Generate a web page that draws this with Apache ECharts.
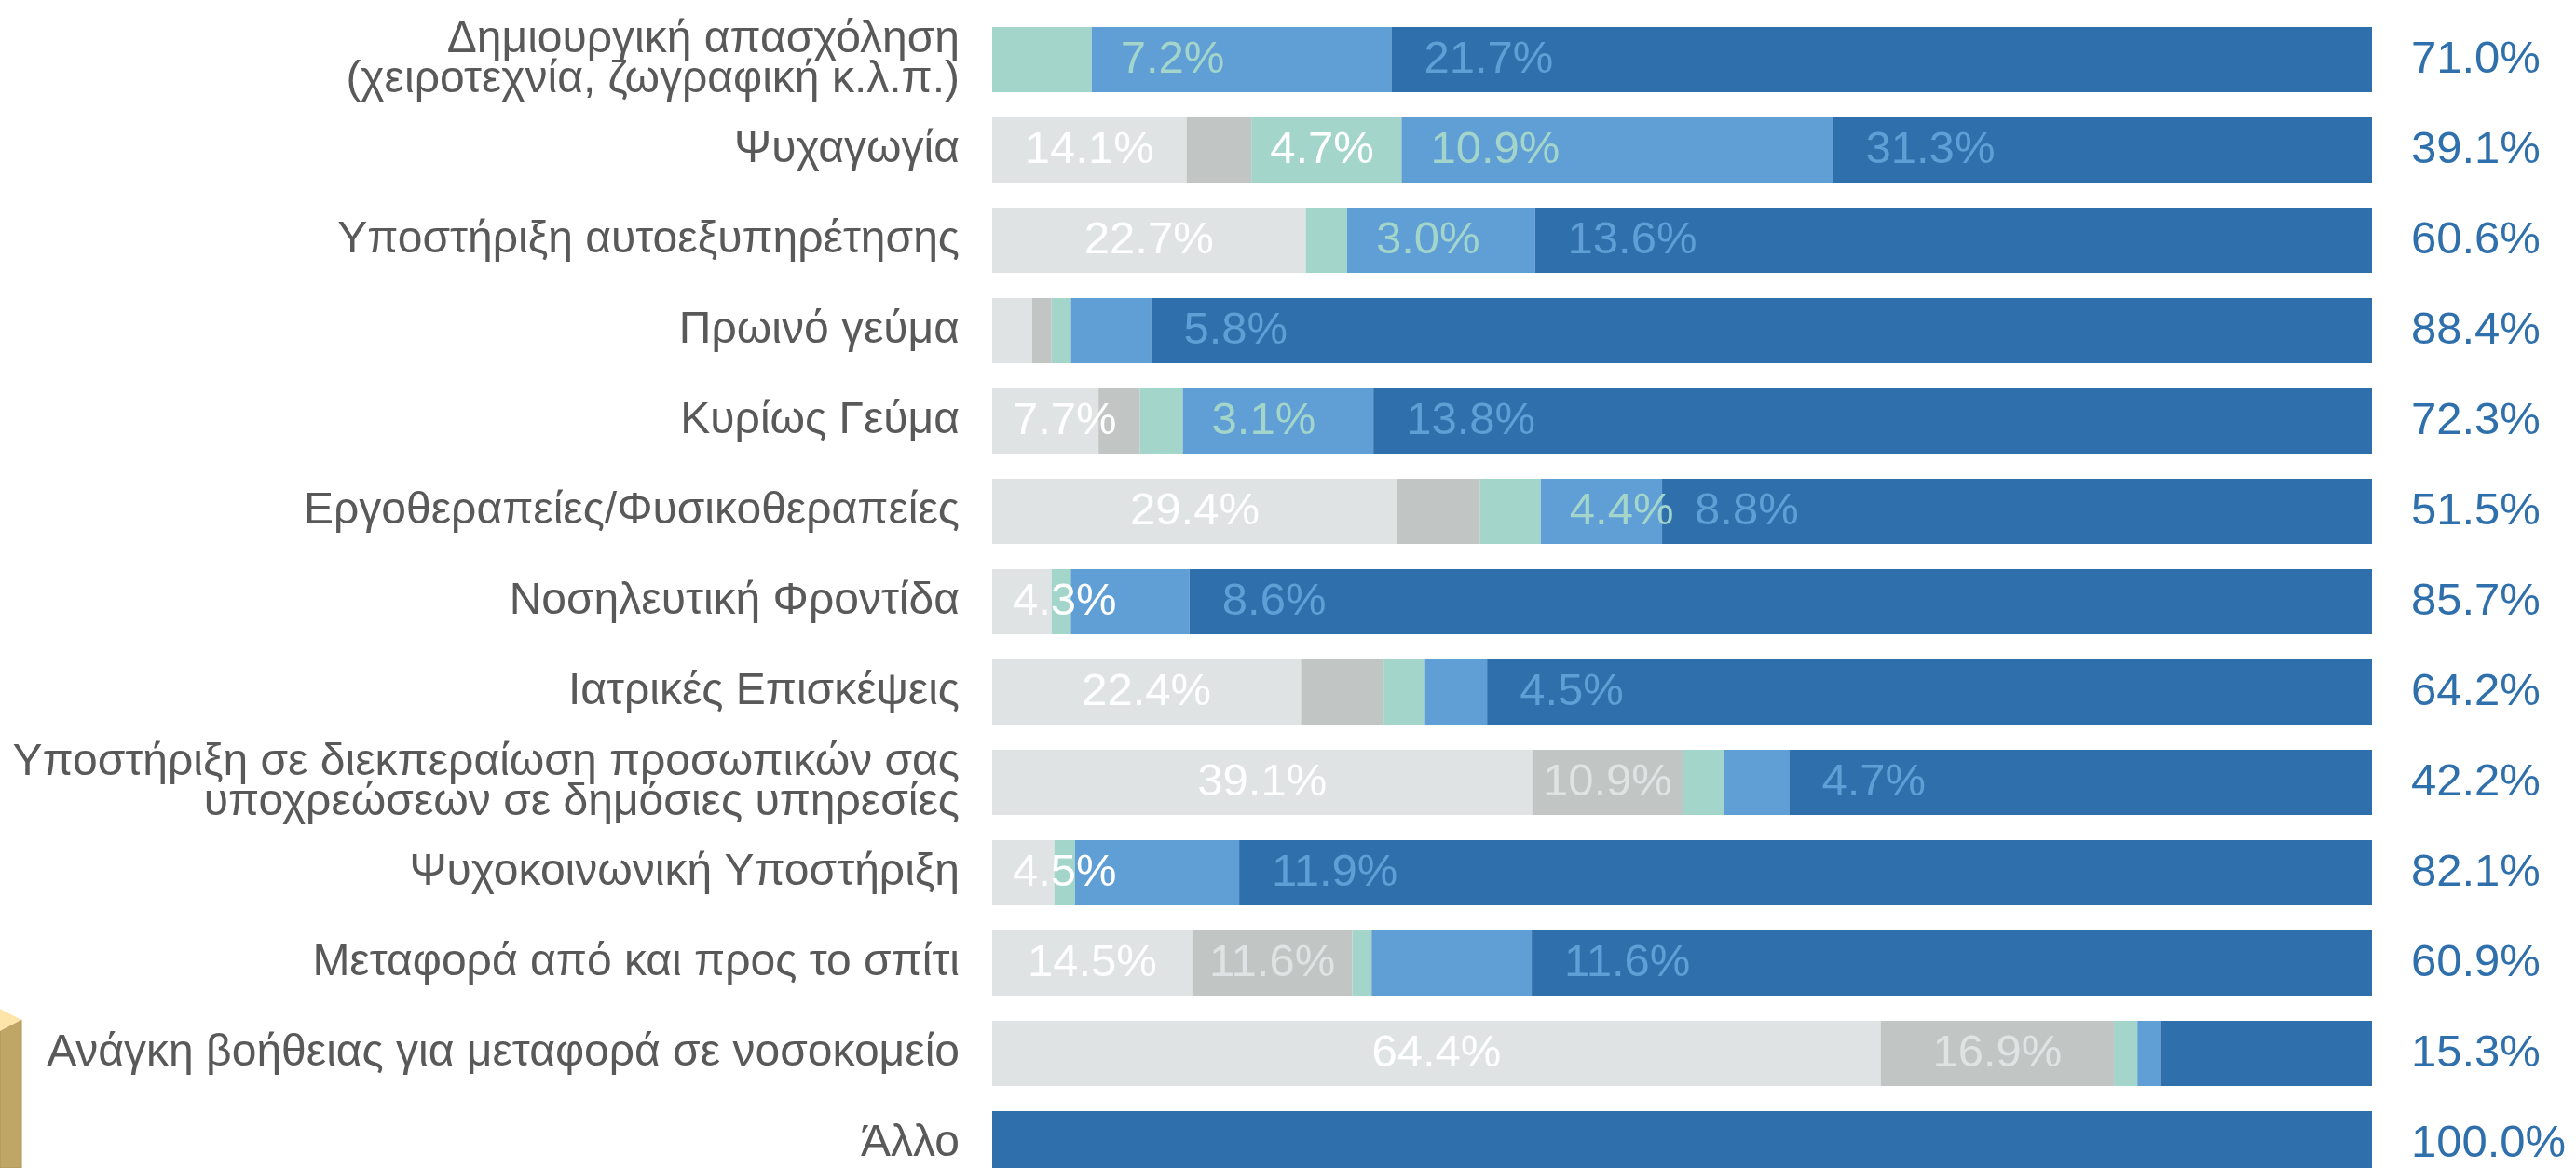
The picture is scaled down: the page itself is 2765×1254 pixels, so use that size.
<!DOCTYPE html>
<html>
<head>
<meta charset="utf-8">
<script src="https://cdn.jsdelivr.net/npm/echarts@6/dist/echarts.min.js"></script>
<style>
  html, body { margin: 0; padding: 0; background: #fff; }
  #chart { width: 2765px; height: 1254px; }
</style>
</head>
<body>
<div id="chart"></div>
<script>
// κατηγορίες (από πάνω προς τα κάτω)
const categories = [
  "Δημιουργική απασχόληση\n(χειροτεχνία, ζωγραφική κ.λ.π.)",
  "Ψυχαγωγία",
  "Υποστήριξη αυτοεξυπηρέτησης",
  "Πρωινό γεύμα",
  "Κυρίως Γεύμα",
  "Εργοθεραπείες/Φυσικοθεραπείες",
  "Νοσηλευτική Φροντίδα",
  "Ιατρικές Επισκέψεις",
  "Υποστήριξη σε διεκπεραίωση προσωπικών σας\nυποχρεώσεων σε δημόσιες υπηρεσίες",
  "Ψυχοκοινωνική Υποστήριξη",
  "Μεταφορά από και προς το σπίτι",
  "Ανάγκη βοήθειας για μεταφορά σε νοσοκομείο",
  "Άλλο"
];

// ποσοστά ανά επίπεδο (%)
const level1 = [0, 14.1, 22.7, 2.9, 7.7, 29.4, 4.3, 22.4, 39.1, 4.5, 14.5, 64.4, 0];
const level2 = [0, 4.7, 0, 1.4, 3.0, 6.0, 0, 6.0, 10.9, 0, 11.6, 16.9, 0];
const level3 = [7.2, 10.9, 3.0, 1.4, 3.1, 4.4, 1.4, 3.0, 3.0, 1.5, 1.4, 1.7, 0];
const level4 = [21.7, 31.3, 13.6, 5.8, 13.8, 8.8, 8.6, 4.5, 4.7, 11.9, 11.6, 1.7, 0];
const level5 = [71.0, 39.1, 60.6, 88.4, 72.3, 51.5, 85.7, 64.2, 42.2, 82.1, 60.9, 15.3, 100.0];

// τιμές που δεν τυπώνονται στο γράφημα: [επίπεδο, γραμμή]
const hiddenLabels = [
  [0, 3],
  [1, 3], [1, 4], [1, 5], [1, 7],
  [2, 3], [2, 6], [2, 7], [2, 8], [2, 9], [2, 10], [2, 11],
  [3, 11]
];

const levels = [level1, level2, level3, level4, level5];
const colors = ['#dfe3e3', '#c1c5c4', '#a3d5cb', '#5f9fd5', '#2f70ac'];
const font = 'Liberation Sans, Arial, Helvetica, sans-serif';

// άθροισμα ανά γραμμή, για να φτάνουν όλες οι μπάρες στο 100%
const rowTotals = categories.map((c, i) => levels.reduce((s, arr) => s + arr[i], 0));

function isHidden(s, i) {
  return hiddenLabels.some(h => h[0] === s && h[1] === i);
}

function labelFor(s, v, i) {
  if (!v || isHidden(s, i)) return {show: false};
  let lab = {show: true, fontSize: 49, fontFamily: font};
  if (s === 0) {
    lab.color = '#ffffff';
    if (v < 10) { lab.position = 'insideLeft'; lab.distance = 22; }
    else lab.position = 'inside';
  } else if (s === 1) {
    if (v < 10) { lab.position = 'right'; lab.distance = 20; lab.color = '#ffffff'; }
    else { lab.position = 'inside'; lab.color = colors[0]; }
  } else {
    lab.position = 'right';
    lab.color = colors[s];
    lab.distance = s === 4 ? 42 : (s === 3 ? 35 : 31);
  }
  return lab;
}

let series = [];
for (let s = 0; s < levels.length; s++) {
  series.push({
    type: 'bar',
    stack: 'total',
    barWidth: 70,
    itemStyle: {color: colors[s]},
    label: {
      formatter: p => levels[s][p.dataIndex].toFixed(1) + '%'
    },
    data: levels[s].map((v, i) => ({
      value: v / rowTotals[i] * 100,
      label: labelFor(s, v, i)
    }))
  });
}

let option = {
  animation: false,
  backgroundColor: '#ffffff',
  grid: {left: 1065, width: 1481, top: 15.5, height: 1261, outerBoundsMode: 'none', containLabel: false},
  xAxis: {type: 'value', min: 0, max: 100, show: false},
  yAxis: {
    type: 'category',
    inverse: true,
    data: categories,
    axisLine: {show: false},
    axisTick: {show: false},
    splitLine: {show: false},
    axisLabel: {
      color: '#595959',
      fontSize: 48,
      lineHeight: 43,
      fontFamily: font,
      margin: 35,
      align: 'right'
    }
  },
  // διακοσμητικό στοιχείο κάτω αριστερά
  graphic: [
    {type: 'polygon', shape: {points: [[0, 1107], [23, 1095], [23, 1254], [0, 1254]]},
      style: {fill: '#bfa566', stroke: '#b09552', lineWidth: 1}},
    {type: 'polygon', shape: {points: [[0, 1083], [23, 1095], [0, 1107]]},
      style: {fill: '#fde4a8'}}
  ],
  series: series
};

let myChart = echarts.init(document.getElementById('chart'));
myChart.setOption(option);
</script>
</body>
</html>
